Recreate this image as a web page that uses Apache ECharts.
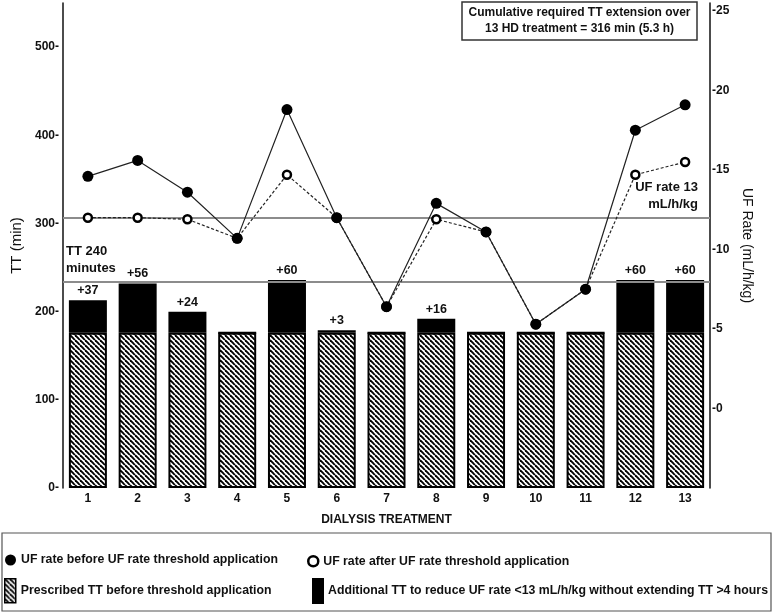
<!DOCTYPE html>
<html>
<head>
<meta charset="utf-8">
<script src="https://cdn.jsdelivr.net/npm/echarts@6/dist/echarts.min.js"></script>
<style>html,body{margin:0;padding:0;background:#fff;}#chart{width:774px;height:614px;}</style>
</head>
<body>
<div id="chart"></div>
<script>
const categories = ['1','2','3','4','5','6','7','8','9','10','11','12','13'];
const prescribedTT = [176,176,176,176,176,176,176,176,176,176,176,176,176];
const additionalTT = [37,56,24,0,60,3,0,16,0,0,0,60,60];
const ufBefore = [14.6,15.6,13.6,10.7,18.8,12.0,6.4,12.9,11.1,5.3,7.5,17.5,19.1];
const ufAfter  = [12.0,12.0,11.9,10.7,14.7,12.0,6.4,11.9,11.1,5.3,7.5,14.7,15.5];
const leftTicks = [0,100,200,300,400,500];
const rightTicks = [0,5,10,15,20,25];
const ttLineValue = 234;
const ufLineValue = 12.0;

const nameBefore = 'UF rate before UF rate threshold application';
const nameAfter = 'UF rate after UF rate threshold application';
const namePresc = 'Prescribed TT before threshold application';
const nameAdd = 'Additional TT to reduce UF rate <13 mL/h/kg without extending TT >4 hours';

const FONT = "'Liberation Sans',Arial,sans-serif";

function hatch() {
  const s = 5;
  const c = document.createElement('canvas');
  c.width = s; c.height = s;
  const g = c.getContext('2d');
  g.fillStyle = '#fff'; g.fillRect(0,0,s,s);
  g.strokeStyle = '#000'; g.lineWidth = 1.9;
  for (let i = -1; i <= 1; i++) {
    g.beginPath(); g.moveTo(i*s, 0); g.lineTo(i*s + s, s); g.stroke();
  }
  return {image: c, repeat: 'repeat'};
}
const hatchFill = hatch();

const chart = echarts.init(document.getElementById('chart'), null, {renderer:'canvas'});
const txt = {fontFamily: FONT, fontWeight: 'bold', color: '#111'};
const legTxt = Object.assign({fontSize: 12.3}, txt);

chart.setOption({
  animation: false,
  grid: {left: 63, right: 64, top: 3, bottom: 126},
  xAxis: {
    type: 'category', data: categories,
    axisLine: {show: false}, axisTick: {show: false},
    axisLabel: Object.assign({fontSize: 12, margin: 5}, txt),
    name: 'DIALYSIS TREATMENT', nameLocation: 'middle', nameGap: 26,
    nameTextStyle: Object.assign({fontSize: 12}, txt)
  },
  yAxis: [
    {
      type: 'value', min: 0, max: 550, interval: 100,
      axisLine: {show: true, lineStyle: {color: '#111', width: 1.5}},
      axisTick: {show: false}, splitLine: {show: false},
      axisLabel: Object.assign({fontSize: 12, margin: 4,
        formatter: v => leftTicks.includes(v) ? v + '-' : ''}, txt),
      name: 'TT (min)', nameLocation: 'middle', nameGap: 32, nameRotate: 90,
      nameTextStyle: {fontFamily: FONT, fontSize: 15, color: '#111'}
    },
    {
      type: 'value', min: -5, max: 25.5, interval: 5, position: 'right',
      axisLine: {show: true, lineStyle: {color: '#111', width: 1.5}},
      axisTick: {show: false}, splitLine: {show: false},
      axisLabel: Object.assign({fontSize: 12, margin: 2,
        formatter: v => rightTicks.includes(v) ? '-' + v : ''}, txt),
      name: 'UF Rate (mL/h/kg)', nameLocation: 'middle', nameGap: 24, nameRotate: -90,
      nameTextStyle: {fontFamily: FONT, fontSize: 14, color: '#111'}
    }
  ],
  legend: [
    {data: [{name: nameBefore, icon: 'circle'}], left: 5, top: 554, padding: 0, itemWidth: 11, itemHeight: 11,
     textStyle: legTxt, selectedMode: false},
    {data: [{name: nameAfter, icon: 'circle', itemStyle: {color: '#fff', borderColor: '#000', borderWidth: 2.5}}],
     left: 307, top: 555, padding: 0, itemWidth: 10, itemHeight: 10,
     textStyle: legTxt, selectedMode: false},
    {data: [{name: namePresc, icon: 'rect', itemStyle: {borderColor: '#000', borderWidth: 1.5}}],
     left: 4, top: 578, padding: 0, itemWidth: 11, itemHeight: 24,
     textStyle: legTxt, selectedMode: false},
    {data: [{name: nameAdd, icon: 'rect'}], left: 312, top: 578, padding: 0, itemWidth: 10, itemHeight: 24,
     textStyle: legTxt, selectedMode: false}
  ],
  graphic: [
    {type: 'rect', shape: {x: 2, y: 533, width: 769, height: 78},
     style: {fill: 'none', stroke: '#555', lineWidth: 1.2}, silent: true},
    {type: 'rect', shape: {x: 462, y: 2, width: 235, height: 38},
     style: {fill: '#fff', stroke: '#333', lineWidth: 1.5}, silent: true, z: 10},
    {type: 'text', x: 579.5, y: 21, z: 11, silent: true,
     style: {text: 'Cumulative required TT extension over\n13 HD treatment = 316 min (5.3 h)',
       align: 'center', verticalAlign: 'middle', lineHeight: 16,
       font: "bold 12px " + FONT, fill: '#111'}}
  ],
  series: [
    {
      name: namePresc, type: 'bar', stack: 'tt', yAxisIndex: 0, barWidth: 38,
      data: prescribedTT, itemStyle: {color: hatchFill, borderColor: '#000', borderWidth: 2},
      emphasis: {disabled: true},
      markLine: {
        silent: true, symbol: 'none',
        lineStyle: {color: '#8c8c8c', width: 2, type: 'solid'},
        label: {show: true, position: 'insideStartTop', formatter: 'TT 240\nminutes',
          align: 'left', distance: [3, 5], fontSize: 13, lineHeight: 17,
          fontFamily: FONT, fontWeight: 'bold', color: '#111'},
        data: [{yAxis: ttLineValue}]
      }
    },
    {
      name: nameAdd, type: 'bar', stack: 'tt', yAxisIndex: 0, barWidth: 38,
      data: additionalTT, itemStyle: {color: '#000', borderColor: '#000', borderWidth: 2},
      emphasis: {disabled: true},
      label: Object.assign({show: true, position: 'top', distance: 3, fontSize: 12.5,
        formatter: p => p.value > 0 ? '+' + p.value : ''}, txt)
    },
    {
      name: nameAfter, type: 'line', yAxisIndex: 1, data: ufAfter, z: 5,
      symbol: 'circle', symbolSize: 8,
      itemStyle: {color: '#fff', borderColor: '#000', borderWidth: 2.5},
      lineStyle: {color: '#222', width: 1.2, type: [3, 2]},
      emphasis: {disabled: true}
    },
    {
      name: nameBefore, type: 'line', yAxisIndex: 1, data: ufBefore, z: 6,
      symbol: 'circle', symbolSize: 11,
      itemStyle: {color: '#000'},
      lineStyle: {color: '#222', width: 1.2},
      emphasis: {disabled: true},
      markLine: {
        silent: true, symbol: 'none',
        lineStyle: {color: '#8c8c8c', width: 2, type: 'solid'},
        label: {show: true, position: 'insideEndTop', formatter: 'UF rate 13\nmL/h/kg',
          align: 'right', distance: [12, 5], fontSize: 13, lineHeight: 17,
          fontFamily: FONT, fontWeight: 'bold', color: '#111'},
        data: [{yAxis: ufLineValue}]
      }
    }
  ]
});
</script>
</body>
</html>
